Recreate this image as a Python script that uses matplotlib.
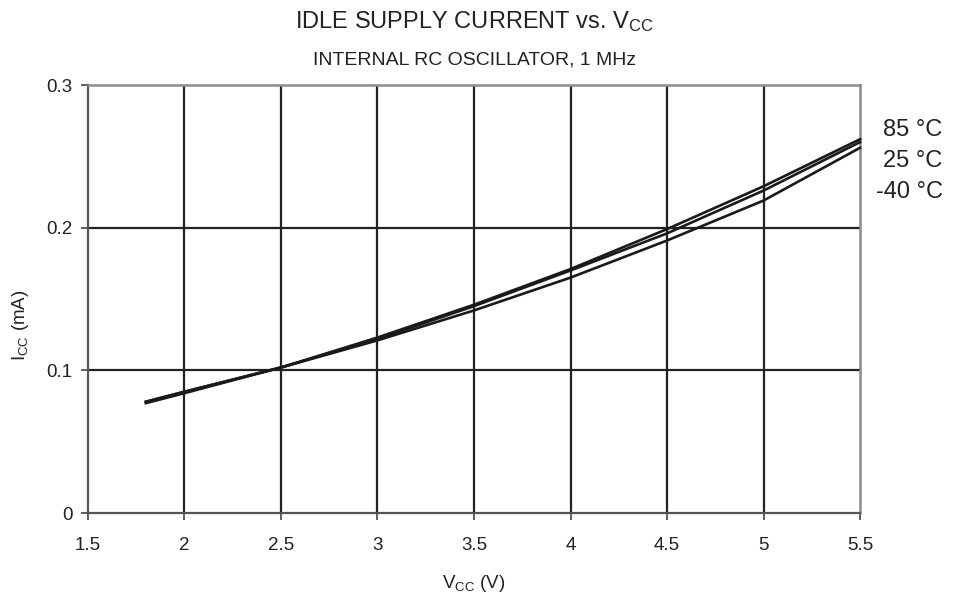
import numpy as np
import matplotlib
matplotlib.use('Agg')
import matplotlib.pyplot as plt

plt.rcParams['font.family'] = ['Liberation Sans', 'DejaVu Sans']
plt.rcParams['mathtext.default'] = 'regular'

# supply voltage (V) and idle current (mA) per temperature
vcc = [1.8, 2.0, 2.5, 3.0, 3.5, 4.0, 4.5, 5.0, 5.5]
icc_85 = [0.078, 0.085, 0.102, 0.123, 0.146, 0.171, 0.199, 0.229, 0.262]
icc_25 = [0.078, 0.085, 0.102, 0.122, 0.145, 0.170, 0.196, 0.226, 0.260]
icc_m40 = [0.077, 0.084, 0.102, 0.121, 0.142, 0.165, 0.191, 0.219, 0.256]
temp_labels = ['85 °C', '25 °C', '-40 °C']

xticks = [1.5, 2, 2.5, 3, 3.5, 4, 4.5, 5, 5.5]
xtick_labels = ['1.5', '2', '2.5', '3', '3.5', '4', '4.5', '5', '5.5']
yticks = [0, 0.1, 0.2, 0.3]
ytick_labels = ['0', '0.1', '0.2', '0.3']

fig = plt.figure(figsize=(9.54, 5.97), dpi=100)
ax = fig.add_axes([0.0922, 0.1407, 0.8093, 0.7169])

ax.set_xlim(1.5, 5.5)
ax.set_ylim(0, 0.3)
ax.set_xticks(xticks)
ax.set_xticklabels(xtick_labels)
ax.set_yticks(yticks)
ax.set_yticklabels(ytick_labels)
ax.tick_params(direction='out', length=5, width=1.2, color='#444444',
               labelsize=13.5, labelcolor='#222222', pad=6)
ax.tick_params(axis='x', pad=12)

# dark grid, interior lines only
for x in xticks[1:-1]:
    ax.axvline(x, color='#222222', lw=1.6, zorder=1)
for y in yticks[1:-1]:
    ax.axhline(y, color='#222222', lw=1.6, zorder=1)

for s in ['left', 'bottom']:
    ax.spines[s].set_color('#555555')
    ax.spines[s].set_linewidth(1.6)
for s in ['top', 'right']:
    ax.spines[s].set_color('#8c8c8c')
    ax.spines[s].set_linewidth(1.8)

for icc in [icc_85, icc_25, icc_m40]:
    ax.plot(vcc, icc, color='#1a1a1a', lw=1.9, zorder=3, clip_on=False)

# temperature labels beside the curve ends
for i, lab in enumerate(temp_labels):
    fig.text(0.988, 1 - (130 + i * 31) / 597, lab, ha='right', va='center',
             fontsize=17, color='#222222')

fig.text(0.497, 1 - 22 / 597, 'IDLE SUPPLY CURRENT vs. $V_{CC}$', ha='center',
         va='center', fontsize=17, color='#222222')
fig.text(0.497, 1 - 60 / 597, 'INTERNAL RC OSCILLATOR, 1 MHz', ha='center',
         va='center', fontsize=14, color='#222222')

ax.set_xlabel('$V_{CC}$ (V)', fontsize=13.5, color='#222222', labelpad=14)
fig.text(21 / 954, 1 - 325 / 597, '$I_{CC}$ (mA)', rotation=90, ha='center',
         va='center', fontsize=13.5, color='#222222')

plt.savefig('out.png', dpi=100)
